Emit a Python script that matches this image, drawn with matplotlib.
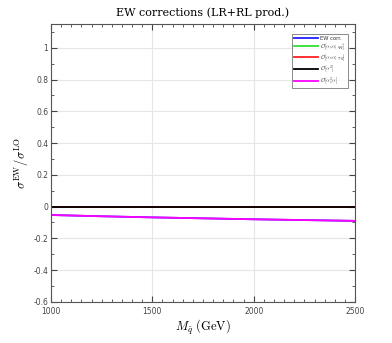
import matplotlib
matplotlib.use("Agg")
import matplotlib.pyplot as plt
from matplotlib.ticker import MultipleLocator

plt.rcParams['mathtext.fontset'] = 'cm'

# squark mass (GeV) and relative corrections
mass = [1000, 1250, 1500, 1750, 2000, 2250, 2500]
ew_corr = [-0.053, -0.061, -0.068, -0.074, -0.080, -0.085, -0.090]
qqbar = [0.0, 0.0, 0.0, 0.0, 0.0, 0.0, 0.0]
gamma_g = [0.0, 0.0, 0.0, 0.0, 0.0, 0.0, 0.0]
alpha2 = [0.0, 0.0, 0.0, 0.0, 0.0, 0.0, 0.0]
as2a = [-0.053, -0.061, -0.068, -0.074, -0.080, -0.085, -0.090]

labels = ['EW corr.',
          r'$\mathcal{O}[\alpha_s\alpha;\,q\bar{q}]$',
          r'$\mathcal{O}[\alpha_s\alpha;\,\gamma g]$',
          r'$\mathcal{O}[\alpha^2]$',
          r'$\mathcal{O}[\alpha_s^2\alpha]$']
colors = ['#2020ff', '#30e030', '#ff2020', 'black', '#ff00ff']

fig = plt.figure(figsize=(3.92, 3.43), dpi=100)
ax = fig.add_axes([0.130, 0.120, 0.776, 0.810])

for y, lab, c in zip([ew_corr, qqbar, gamma_g, alpha2, as2a], labels, colors):
    ax.plot(mass, y, color=c, lw=1.3, label=lab)

ax.set_xlim(1000, 2500)
ax.set_ylim(-0.6, 1.15)
ax.xaxis.set_major_locator(MultipleLocator(500))
ax.xaxis.set_minor_locator(MultipleLocator(50))
ax.yaxis.set_minor_locator(MultipleLocator(0.1))
ax.set_yticks([-0.6, -0.4, -0.2, 0, 0.2, 0.4, 0.6, 0.8, 1.0])
ax.set_yticklabels(['-0.6', '-0.4', '-0.2', '0', '0.2', '0.4', '0.6', '0.8', '1'])
ax.tick_params(which='both', direction='in', top=True, right=True,
               labelsize=5.5, colors='#444444', pad=2)
ax.tick_params(axis='x', which='major', pad=4)
ax.tick_params(which='major', length=4)
ax.tick_params(which='minor', length=2)
ax.grid(True, which='major', color='#e6e6e6', lw=0.8)
for s in ax.spines.values():
    s.set_color('#555555')
    s.set_linewidth(0.8)

ax.set_title('EW corrections (LR+RL prod.)', family='DejaVu Serif',
             fontsize=8, pad=6)
ax.set_xlabel(r'$M_{\tilde{q}}\ \mathrm{(GeV)}$', fontsize=9, labelpad=1)
ax.set_ylabel(r'$\sigma^{\mathrm{EW}}/\sigma^{\mathrm{LO}}$', fontsize=9,
              labelpad=2)

leg = ax.legend(loc='upper right', fontsize=3.8, frameon=True, fancybox=False,
                edgecolor='#555555', handlelength=4.5, handletextpad=0.3,
                borderpad=0.4, labelspacing=0.15, borderaxespad=0,
                bbox_to_anchor=(0.975, 0.965))
leg.get_frame().set_linewidth(0.6)
for t in leg.get_texts():
    t.set_color('#333333')

fig.savefig('out.png', dpi=100)
